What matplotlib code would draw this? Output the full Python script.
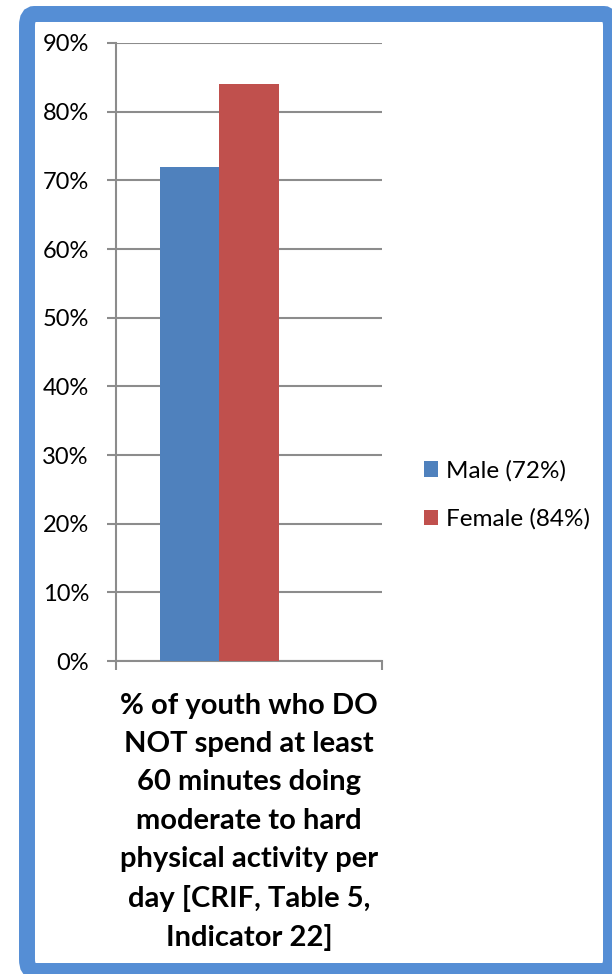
import matplotlib
matplotlib.use('Agg')
import matplotlib.pyplot as plt
from matplotlib.patches import FancyBboxPatch, Rectangle

plt.rcParams['font.family'] = ['Lato', 'DejaVu Sans']

category = '% of youth who DO\nNOT spend at least\n60 minutes doing\nmoderate to hard\nphysical activity per\nday [CRIF, Table 5,\nIndicator 22]'
series = ['Male (72%)', 'Female (84%)']
values = [0.72, 0.84]
colors = ['#4F81BD', '#C0504D']
yticks = [0, 0.1, 0.2, 0.3, 0.4, 0.5, 0.6, 0.7, 0.8, 0.9]

W, H = 612, 974
fig = plt.figure(figsize=(W / 100, H / 100), dpi=100)

# blue rounded frame around the whole chart
frame = FancyBboxPatch((27 / W, 3 / H), 584 / W, 957 / H,
                       boxstyle='round,pad=0,rounding_size=0.012',
                       transform=fig.transFigure, facecolor='white',
                       edgecolor='#558ED5', linewidth=11.5, zorder=-5)
fig.patches.append(frame)

ax = fig.add_axes([116 / W, (H - 661) / H, 266 / W, 618 / H])
ax.set_facecolor('none')
ax.set_zorder(3)

bw = 0.224
for i, (name, v, c) in enumerate(zip(series, values, colors)):
    ax.bar((i - 1) * bw, v, width=bw, color=c, label=name, zorder=3)

ax.set_xlim(-0.5, 0.5)
ax.set_ylim(0, 0.9)
ax.set_yticks(yticks)
ax.set_yticklabels(['%d%%' % round(t * 100) for t in yticks], fontsize=17)
ax.set_xticks([-0.5, 0.5])
ax.set_xticklabels([])
grid_c = '#8C8C8C'
ax.grid(axis='y', color=grid_c, linewidth=1.5, zorder=1)
ax.tick_params(axis='y', length=6.5, width=1.5, color=grid_c, pad=13, labelcolor='black')
ax.tick_params(axis='x', length=6.5, width=1.5, color=grid_c)
for s in ['top', 'right']:
    ax.spines[s].set_visible(False)
for s in ['left', 'bottom']:
    ax.spines[s].set_color(grid_c)
    ax.spines[s].set_linewidth(1.5)

ax.text(0.5, -0.052, category, transform=ax.transAxes, ha='center', va='top',
        fontsize=21, fontweight='bold', linespacing=1.58)

leg = fig.legend(loc='center left', bbox_to_anchor=(414 / W, (H - 495) / H),
                 frameon=False, fontsize=17.5, handlelength=0.6, handleheight=0.6,
                 handletextpad=0.3, labelspacing=1.1, borderaxespad=0)
leg.set_zorder(4)

fig.savefig('out.png', dpi=100)
